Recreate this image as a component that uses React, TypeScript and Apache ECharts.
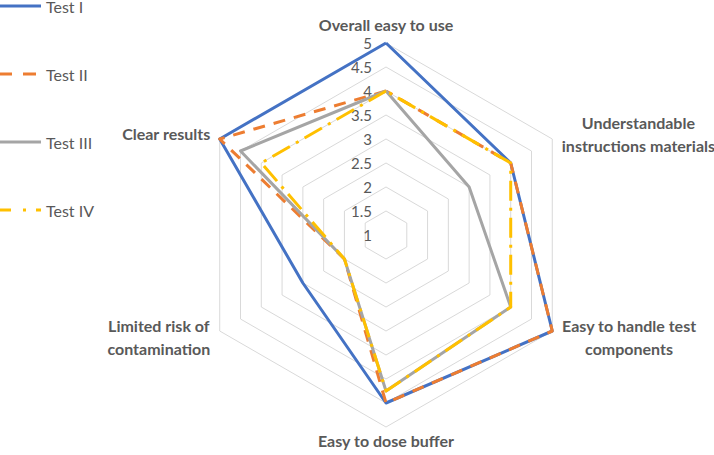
import React, { useEffect, useRef } from 'react';
import * as echarts from 'echarts';

// Criteria in clockwise order starting at the top
const criteria = [
  'Overall easy to use',
  'Understandable\ninstructions materials',
  'Easy to handle test\ncomponents',
  'Easy to dose buffer',
  'Limited risk of\ncontamination',
  'Clear results',
];
const seriesNames = ['Test I', 'Test II', 'Test III', 'Test IV'];
const testI = [5, 4, 5, 4.5, 3, 5];
const testII = [4, 4, 5, 4.5, 2, 5];
const testIII = [4, 3, 4, 4.25, 2, 4.5];
const testIV = [4, 4, 4, 4.25, 2, 4];
const axisMin = 1;
const axisMax = 5;
const axisSplits = 8;

const colors = ['#4472C4', '#ED7D31', '#A5A5A5', '#FFC000'];
const lineTypes: any[] = ['solid', [12, 9], 'solid', [20, 7, 3, 7]];
const legendIcons = [
  'path://M0,0H41V3H0Z',
  'path://M0,0H12V3H0Z M23,0H36V3H23Z M41,0L41,3Z',
  'path://M0,0H41V3H0Z',
  'path://M0,0H11V3H0Z M23,0H26V3H23Z M36,0H41V3H36Z',
];

export default function App() {
  const ref = useRef<HTMLDivElement>(null);
  useEffect(() => {
    const chart = echarts.init(ref.current!, null, { renderer: 'svg' });
    const all = [testI, testII, testIII, testIV];
    // ECharts radar goes counter-clockwise; reorder to match clockwise layout
    const order = [0, 5, 4, 3, 2, 1];
    const font = 'Lato, "Open Sans", sans-serif';
    chart.setOption({
      animation: false,
      backgroundColor: '#ffffff',
      color: colors,
      legend: {
        orient: 'vertical',
        left: 0,
        top: -4,
        padding: 0,
        itemWidth: 41,
        itemHeight: 3,
        itemGap: 48,
        itemStyle: { borderWidth: 0 },
        textStyle: { color: '#595959', fontSize: 16, fontFamily: font, lineHeight: 20 },
        data: seriesNames.map((n, i) => ({ name: n, icon: legendIcons[i] })),
      },
      radar: {
        center: [386, 235],
        radius: 192,
        shape: 'polygon',
        splitNumber: axisSplits,
        startAngle: 90,
        nameGap: 11,
        axisName: {
          color: '#595959',
          fontSize: 16,
          fontWeight: 'bold',
          fontFamily: font,
          formatter: (name: string) =>
            name.includes('\n')
              ? name.split('\n').map((l) => `{c|${l}}`).join('\n')
              : name,
          rich: {
            c: {
              align: 'center',
              color: '#595959',
              fontSize: 16,
              fontWeight: 'bold',
              fontFamily: font,
              lineHeight: 23,
            },
          },
        },
        axisLine: { show: false },
        axisTick: { show: false },
        splitArea: { show: false },
        splitLine: { lineStyle: { color: '#D9D9D9', width: 1 } },
        axisLabel: {
          show: true,
          color: '#595959',
          fontSize: 15,
          fontFamily: font,
          margin: 14,
        },
        indicator: order.map((i, k) => ({
          name: criteria[i],
          min: axisMin,
          max: axisMax,
          nameGap: i === 3 ? 5 : 11,
          axisLabel: { show: k === 0 },
        })),
      },
      series: all.map((vals, s) => ({
        type: 'radar',
        name: seriesNames[s],
        symbol: 'none',
        z: 2 + s,
        lineStyle: { color: colors[s], width: 3, type: lineTypes[s] },
        itemStyle: { color: colors[s] },
        data: [
          {
            name: seriesNames[s],
            value: order.map((i) => vals[i]),
          },
        ],
      })),
    });
    return () => chart.dispose();
  }, []);
  return (
    <div
      ref={ref}
      style={{ position: 'fixed', left: 0, top: 0, width: 714, height: 455, background: '#fff' }}
    />
  );
}
